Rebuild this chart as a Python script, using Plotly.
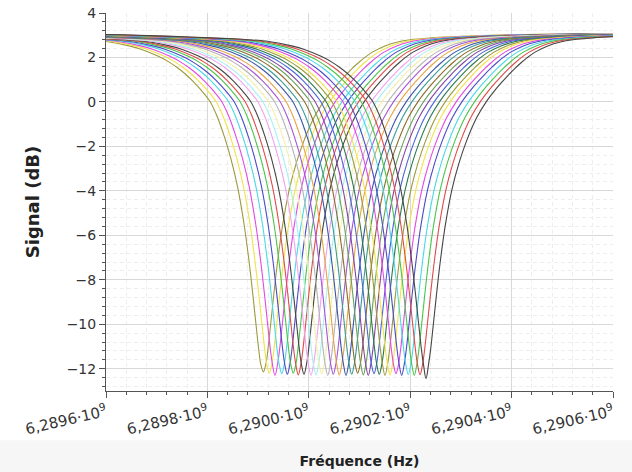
import plotly.graph_objects as go

# Resonance profile (offset from the dip centre in kHz, signal in dB)
offsets_khz = [-800, -700, -600, -500, -400, -350, -310, -265, -240, -207, -185, -170, -155, -140, -123,
               -106, -92, -77, -64, -51, -38, -28, -20, -14, -9, -5, 0, 5, 9, 14, 20, 28, 38, 51, 65,
               80, 100, 120, 135, 150, 162, 175, 187, 199, 215, 240, 265, 290, 330, 370, 450, 550, 650,
               800]
profile_db = [3.08, 3.06, 3.02, 2.95, 2.86, 2.80, 2.72, 2.52, 2.36, 2.05, 1.78, 1.55, 1.28, 0.96, 0.54,
              0.05, -0.60, -1.55, -2.55, -3.80, -5.50, -7.20, -8.80, -10.10, -11.15, -11.80, -12.30,
              -11.80, -11.15, -10.10, -8.80, -7.20, -5.55, -3.95, -2.75, -1.75, -0.70, 0.05, 0.50,
              0.90, 1.20, 1.50, 1.75, 1.98, 2.24, 2.52, 2.70, 2.80, 2.88, 2.93, 3.00, 3.04, 3.07, 3.08]

# Dip centres (Hz) and minimum values (dB) read for each curve
centers_hz = [6289910300, 6289922100, 6289933300, 6289946600, 6289957600, 6289969400, 6289979300,
              6289990500, 6290004300, 6290014200, 6290025400, 6290037300, 6290048300, 6290060100,
              6290073400, 6290084600, 6290096400, 6290107500, 6290117300, 6290128600, 6290139000,
              6290150300, 6290160100, 6290172000, 6290183200, 6290196200, 6290208100, 6290219400,
              6290231200]
minima_db = [-12.14, -12.20, -12.30, -12.22, -12.25, -12.20, -12.28, -12.25, -12.30, -12.28, -12.22,
             -12.30, -12.25, -12.28, -12.30, -12.25, -12.20, -12.28, -12.30, -12.22, -12.25, -12.30,
             -12.28, -12.22, -12.30, -12.26, -12.30, -12.27, -12.44]
colors = ['#9c9a3c', '#f2e24a', '#e24ae2', '#4ad8e6', '#4a4ac8', '#4ac44a', '#e04a4a', '#444444',
          '#f2a2ee', '#a6f0f2', '#f4f0a8', '#b4b4b4', '#a456d8', '#e6a444', '#3a54a8', '#3a9a96',
          '#8a6a2a', '#6aa25a', '#8444a6', '#4a66d8', '#2a7a4a',
          '#9c9a3c', '#f2e24a', '#e24ae2', '#4a4ac8', '#4ad8e6', '#4ac44a', '#e04a4a', '#444444']

x_ticks = [6.2896e9, 6.2898e9, 6.2900e9, 6.2902e9, 6.2904e9, 6.2906e9]
x_tick_text = ['6,2896·10<sup>9</sup>', '6,2898·10<sup>9</sup>', '6,2900·10<sup>9</sup>',
               '6,2902·10<sup>9</sup>', '6,2904·10<sup>9</sup>', '6,2906·10<sup>9</sup>']

fig = go.Figure()
zero_idx = offsets_khz.index(0)
for c, m, col in zip(centers_hz, minima_db, colors):
    xs = [c + o * 1000 for o in offsets_khz]
    ys = list(profile_db)
    ys[zero_idx] = m
    fig.add_trace(go.Scatter(x=xs, y=ys, mode='lines',
                             line=dict(color=col, width=1.1, shape='spline', smoothing=1.0),
                             showlegend=False, hoverinfo='skip'))

font_family = 'DejaVu Sans'
fig.update_layout(
    width=632, height=472,
    margin=dict(l=106, r=19, t=13, b=81, autoexpand=False),
    paper_bgcolor='white', plot_bgcolor='white',
    font=dict(family=font_family, size=12, color='#333333'),
    shapes=[dict(type='rect', xref='paper', yref='paper', x0=-0.25, x1=1.1, y0=-0.25, y1=-0.13,
                 fillcolor='#f6f6f6', line=dict(width=0), layer='below')],
)
fig.update_xaxes(
    automargin=False,
    range=[6.2896e9, 6.2906e9], tickvals=x_ticks, ticktext=x_tick_text, tickangle=-13,
    tickfont=dict(size=15, color='#333333'),
    showline=True, linecolor='#555555', linewidth=1, ticks='outside', ticklen=6, tickcolor='#555555',
    showgrid=True, gridcolor='#d8d8d8', gridwidth=1, zeroline=False,
    minor=dict(dtick=40000, tick0=6.2896e9, ticks='outside', ticklen=3, tickcolor='#555555',
               showgrid=True, gridcolor='#eeeeee', griddash='4px,3px'),
    title=dict(text='<b>Fréquence (Hz)</b>', font=dict(size=14, color='#222222'), standoff=18),
)
fig.update_yaxes(
    automargin=False, ticklabeloverflow='allow',
    range=[-13, 4], dtick=2, tick0=0,
    tickfont=dict(size=14, color='#333333'),
    showline=True, linecolor='#555555', linewidth=1, ticks='outside', ticklen=6, tickcolor='#555555',
    showgrid=True, gridcolor='#d8d8d8', gridwidth=1, zeroline=False,
    minor=dict(dtick=0.4, ticks='outside', ticklen=3, tickcolor='#555555',
               showgrid=True, gridcolor='#eeeeee', griddash='4px,3px'),
    title=dict(text='<b>Signal (dB)</b>', font=dict(size=18, color='#222222'), standoff=22),
)
fig.write_html('out.html', config={'displayModeBar': False},
               post_script="document.body.style.margin='0';")
